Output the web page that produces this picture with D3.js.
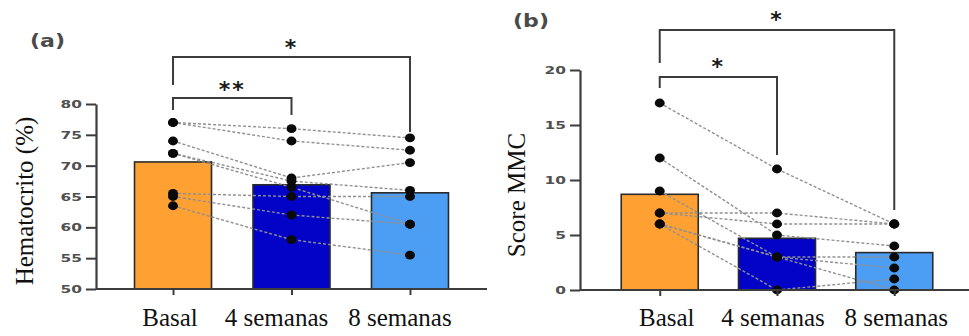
<!DOCTYPE html>
<html>
<head>
<meta charset="utf-8">
<script src="https://cdn.jsdelivr.net/npm/d3@7"></script>
<style>
  html, body { margin: 0; padding: 0; background: #fff; }
  svg { display: block; }
</style>
</head>
<body>
<svg id="chart" width="969" height="336"></svg>
<script>
// Groups on the x axis
const categories = ["Basal", "4 semanas", "8 semanas"];
const barColors = ["#FFA033", "#0303C8", "#4C9EF4"];

// (a) Hematocrit: group means and paired individual values
const hctMeans = [70.6, 66.9, 65.6];
const hctBasal = [77, 77, 74, 72, 72, 65.5, 65, 63.5];
const hct4sem  = [76, 74, 68, 67.5, 66.5, 65, 62, 58];
const hct8sem  = [74.5, 72.5, 70.5, 66, 60.5, 65, 60.5, 55.5];
const hctTicks = [50, 55, 60, 65, 70, 75, 80];

// (b) MMC score: group means and paired individual values
const mmcMeans = [8.7, 4.7, 3.4];
const mmcBasal = [17, 12, 9, 7, 7, 6, 6, 6];
const mmc4sem  = [11, 5, 3, 7, 6, 3, 0, 3];
const mmc8sem  = [6, 4, 3, 6, 6, 2, 1, 0];
const mmcTicks = [0, 5, 10, 15, 20];

// Significance comparisons (group index pairs)
const hctSig = [
  { a: 0, b: 1, label: "**" },
  { a: 0, b: 2, label: "*" }
];
const mmcSig = [
  { a: 0, b: 1, label: "*" },
  { a: 0, b: 2, label: "*" }
];

const svg = d3.select("#chart");
svg.append("rect").attr("width", 969).attr("height", 336).attr("fill", "#fff");

const AXIS = "#3c3c3c";
const TICKTXT = "#505050";

function drawPanel(p) {
  const g = svg.append("g");
  const x = d3.scalePoint().domain(categories).range(p.xRange).padding(p.pad);
  const y = d3.scaleLinear().domain(p.yDomain).range(p.yRange);
  const barW = 77;

  // bars
  g.selectAll("rect.bar").data(p.means).join("rect")
    .attr("class", "bar")
    .attr("x", (d, i) => x(categories[i]) - barW / 2)
    .attr("y", d => y(d))
    .attr("width", barW)
    .attr("height", d => y(p.yDomain[0]) - y(d))
    .attr("fill", (d, i) => barColors[i])
    .attr("stroke", "#2a2a2a")
    .attr("stroke-width", 1.6);

  // paired subject lines
  const subjects = p.series[0].map((_, k) => p.series.map(s => s[k]));
  const line = d3.line().x((d, i) => x(categories[i])).y(d => y(d));
  g.selectAll("path.pair").data(subjects).join("path")
    .attr("class", "pair")
    .attr("d", line)
    .attr("fill", "none")
    .attr("stroke", "#909090")
    .attr("stroke-width", 1.4)
    .attr("stroke-dasharray", "3,2");

  // individual points
  p.series.forEach((s, i) => {
    g.selectAll(null).data(s).join("ellipse")
      .attr("cx", x(categories[i]))
      .attr("cy", d => y(d))
      .attr("rx", 5)
      .attr("ry", 4.4)
      .attr("fill", "#0a0a0a");
  });

  // y axis
  const yAxis = g.append("g")
    .attr("transform", `translate(${p.xRange[0]},0)`)
    .call(d3.axisLeft(y).tickValues(p.ticks).tickSize(10).tickPadding(4).tickSizeOuter(0));
  yAxis.select(".domain").attr("stroke", AXIS).attr("stroke-width", 2.2);
  yAxis.selectAll(".tick line").attr("stroke", AXIS).attr("stroke-width", 2);
  yAxis.selectAll(".tick text")
    .attr("fill", TICKTXT)
    .attr("font-family", "'DejaVu Sans', sans-serif")
    .attr("font-weight", "bold")
    .attr("font-size", 11)
    .attr("transform", "scale(1.4,1)")
    .attr("x", -14 / 1.4);

  // x axis
  const xAxis = g.append("g")
    .attr("transform", `translate(0,${y(p.yDomain[0])})`)
    .call(d3.axisBottom(x).tickSize(6).tickSizeOuter(0).tickFormat(""));
  xAxis.select(".domain").attr("stroke", AXIS).attr("stroke-width", 2.2)
    .attr("d", `M${p.xRange[0]},0H${p.axisEnd}`);
  xAxis.selectAll(".tick line").attr("stroke", AXIS).attr("stroke-width", 2);

  // category labels
  g.selectAll("text.cat").data(categories).join("text")
    .attr("class", "cat")
    .attr("x", (d, i) => x(d) + p.labelShift[i])
    .attr("y", 326)
    .attr("text-anchor", "middle")
    .attr("font-family", "'Liberation Serif', 'Times New Roman', serif")
    .attr("font-size", 25)
    .attr("fill", "#111")
    .text(d => d);

  // y title
  g.append("text")
    .attr("transform", `translate(${p.titleX},${p.titleY}) rotate(-90)`)
    .attr("text-anchor", "middle")
    .attr("font-family", "'Liberation Serif', 'Times New Roman', serif")
    .attr("font-size", 25)
    .attr("fill", "#111")
    .text(p.title);

  // panel tag
  g.append("text")
    .attr("transform", `translate(${p.tagX},${p.tagY}) scale(1.3,1)`)
    .attr("font-family", "'DejaVu Sans', sans-serif")
    .attr("font-weight", "bold")
    .attr("font-size", 17)
    .attr("fill", "#4a4a4a")
    .text(p.tag);

  // significance brackets
  p.sig.forEach((c, k) => {
    const geo = p.sigGeo[k];
    const xa = x(categories[c.a]), xb = x(categories[c.b]);
    g.append("path")
      .attr("d", `M${xa},${geo.dropA}V${geo.top}H${xb}V${geo.dropB}`)
      .attr("fill", "none")
      .attr("stroke", AXIS)
      .attr("stroke-width", 2);
    g.append("text")
      .attr("x", (xa + xb) / 2)
      .attr("y", geo.star + 12)
      .attr("text-anchor", "middle")
      .attr("font-family", "'DejaVu Sans', sans-serif")
      .attr("font-weight", "bold")
      .attr("font-size", 22)
      .attr("letter-spacing", 2)
      .attr("fill", "#1a1a1a")
      .text(c.label);
  });
}

drawPanel({
  xRange: [96, 487], axisEnd: 487, pad: 0.65,
  yDomain: [50, 80], yRange: [289, 104],
  means: hctMeans, series: [hctBasal, hct4sem, hct8sem], ticks: hctTicks,
  labelShift: [-3, -15, -10],
  title: "Hematocrito (%)", titleX: 33, titleY: 201,
  tag: "(a)", tagX: 30, tagY: 47,
  sig: hctSig,
  sigGeo: [
    { top: 98, dropA: 110, dropB: 115, star: 85 },
    { top: 57, dropA: 85, dropB: 132, star: 43 }
  ]
});

drawPanel({
  xRange: [580, 974], axisEnd: 969, pad: 0.68,
  yDomain: [0, 20], yRange: [290, 70],
  means: mmcMeans, series: [mmcBasal, mmc4sem, mmc8sem], ticks: mmcTicks,
  labelShift: [7, -4, 2],
  title: "Score MMC", titleX: 525, titleY: 195,
  tag: "(b)", tagX: 513, tagY: 27,
  sig: mmcSig,
  sigGeo: [
    { top: 77, dropA: 88, dropB: 155, star: 62 },
    { top: 30, dropA: 63, dropB: 210, star: 15 }
  ]
});
</script>
</body>
</html>
